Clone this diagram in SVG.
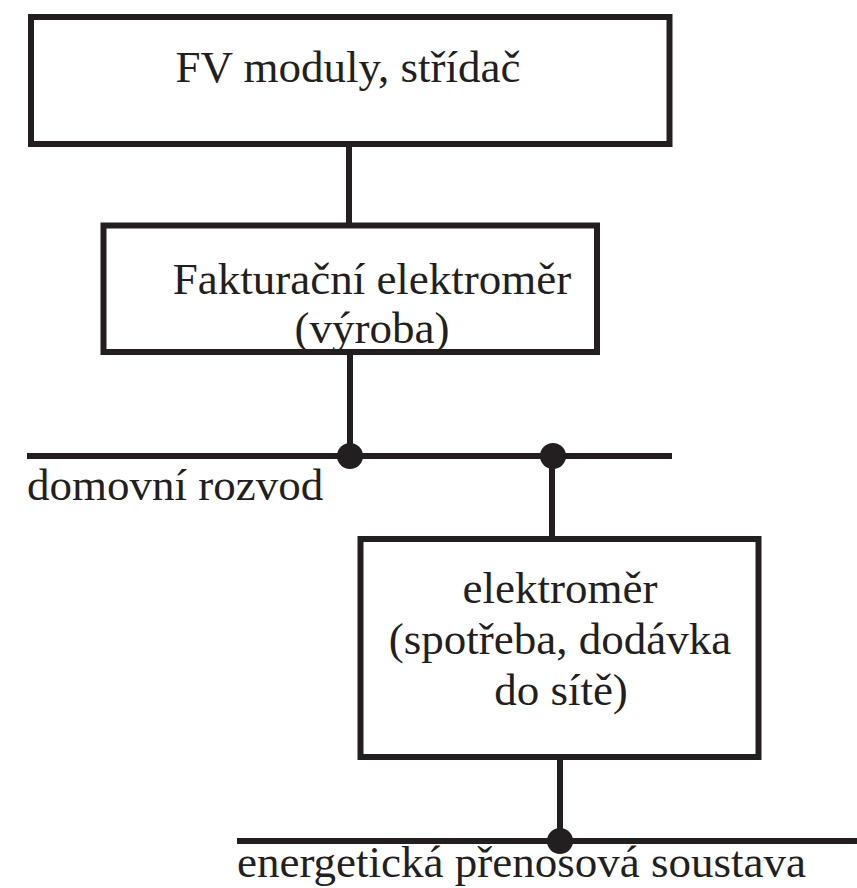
<svg xmlns="http://www.w3.org/2000/svg" width="857" height="888" viewBox="0 0 857 888">
<style>
.box{fill:#fff;stroke:#231f20;stroke-width:6}
.ln{stroke:#231f20;stroke-width:6;fill:none}
.dot{fill:#231f20}
.t{font-size:45px;fill:#231f20}
.c{text-anchor:middle}
</style>
<g id="connectors">
<line class="ln" x1="349" y1="144" x2="349" y2="225"/>
<line class="ln" x1="350" y1="352" x2="350" y2="456"/>
<line class="ln" x1="27" y1="456" x2="672" y2="456"/>
<line class="ln" x1="552" y1="456" x2="552" y2="539"/>
<line class="ln" x1="560" y1="757" x2="560" y2="841"/>
<line class="ln" x1="237" y1="841" x2="857" y2="841"/>
<circle class="dot" cx="350" cy="456" r="13"/>
<circle class="dot" cx="553" cy="456" r="13"/>
<circle class="dot" cx="560" cy="841" r="13"/>
</g>
<g font-family="'Liberation Serif', 'Times New Roman', 'DejaVu Serif', serif">
<g id="fv">
<rect class="box" x="31" y="17" width="638.5" height="127"/>
<text class="t c" x="348" y="82">FV moduly, střídač</text>
</g>
<g id="fakturacni">
<rect class="box" x="103.5" y="225.5" width="493.5" height="126.5"/>
<text class="t c" x="372" y="294">Fakturační elektroměr</text>
<text class="t c" x="372" y="343">(výroba)</text>
</g>
<g id="elektromer">
<rect class="box" x="360.5" y="539" width="398" height="218"/>
<text class="t c" x="560" y="603">elektroměr</text>
<text class="t c" x="560" y="654">(spotřeba, dodávka</text>
<text class="t c" x="561" y="705">do sítě)</text>
</g>
<g id="labels">
<text class="t" x="27" y="500">domovní rozvod</text>
<text class="t" x="237" y="877">energetická přenosová soustava</text>
</g>
</g>
</svg>
